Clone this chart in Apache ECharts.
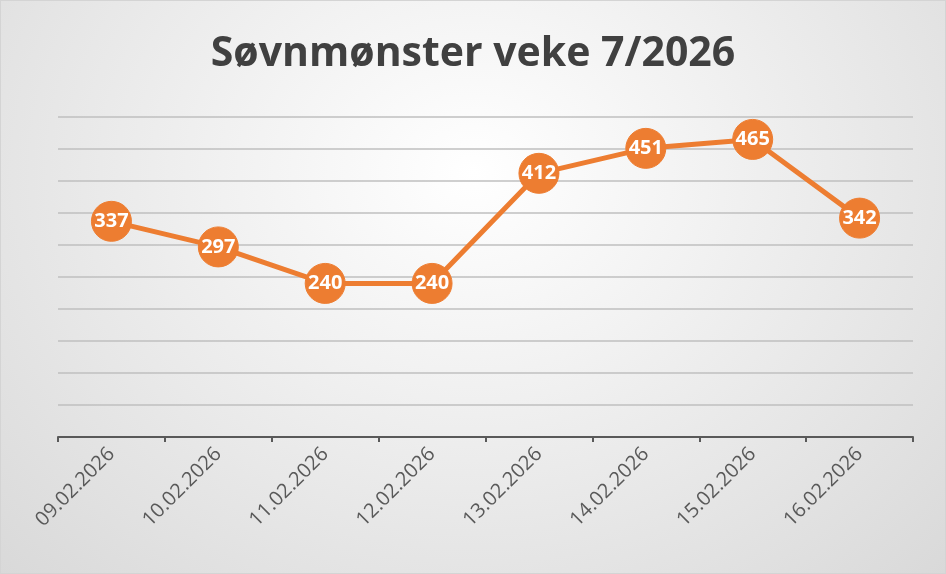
<!DOCTYPE html>
<html>
<head>
<meta charset="utf-8">
<script src="https://cdn.jsdelivr.net/npm/echarts@6/dist/echarts.min.js"></script>
<style>
    html, body { margin: 0; padding: 0; background: #fff; }
    #chart {
        width: 944px; height: 572px;
        border: 1px solid #d4d4d4;
        background: radial-gradient(ellipse at 50% 30%, #ffffff 0%, #f2f2f2 35%, #d9d9d9 100%);
    }
</style>
</head>
<body>
<div id="chart"></div>
<script>
var dates = ['09.02.2026', '10.02.2026', '11.02.2026', '12.02.2026', '13.02.2026', '14.02.2026', '15.02.2026', '16.02.2026'];
var values = [337, 297, 240, 240, 412, 451, 465, 342];

var myChart = echarts.init(document.getElementById('chart'));

var option = {
    title: {
        text: 'Søvnmønster veke 7/2026',
        left: 'center',
        top: 28,
        textStyle: { fontFamily: 'Open Sans', fontSize: 41, fontWeight: 'bold', color: '#404040' }
    },
    grid: { left: 57, right: 32, top: 116, bottom: 136 },
    xAxis: {
        type: 'category',
        data: dates,
        boundaryGap: true,
        axisLine: { lineStyle: { color: '#595959', width: 2 } },
        axisTick: { show: true, length: 5, lineStyle: { color: '#595959', width: 2 } },
        axisLabel: { rotate: 45, color: '#595959', fontSize: 20, fontFamily: 'Open Sans', margin: 14 }
    },
    yAxis: {
        type: 'value',
        min: 0, max: 500, interval: 50,
        axisLabel: { show: false },
        axisLine: { show: false },
        axisTick: { show: false },
        splitLine: { lineStyle: { color: '#bfbfbf', width: 1.5 } }
    },
    series: [{
        type: 'line',
        data: values,
        symbol: 'circle',
        symbolSize: 40,
        lineStyle: { color: '#ED7D31', width: 5 },
        itemStyle: { color: '#ED7D31', borderColor: '#ED7D31' },
        label: {
            show: true,
            position: 'inside',
            color: '#ffffff',
            fontSize: 20,
            fontWeight: 'bold',
            fontFamily: 'Open Sans'
        }
    }]
};
myChart.setOption(option);
</script>
</body>
</html>
